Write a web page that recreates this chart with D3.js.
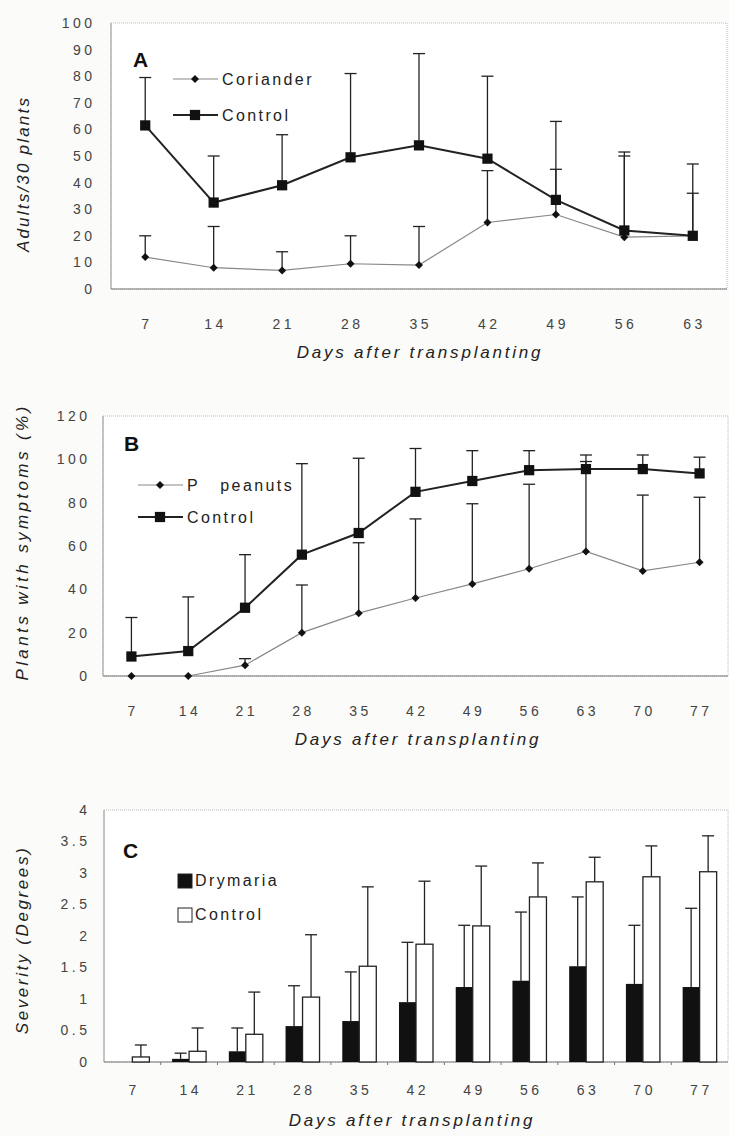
<!DOCTYPE html>
<html>
<head>
<meta charset="utf-8">
<script src="https://cdn.jsdelivr.net/npm/d3@7"></script>
<style>
  body { margin: 0; background: #fbfbf9; }
  svg { display: block; font-family: "Liberation Sans", Arial, sans-serif; }
</style>
</head>
<body>
<div class="canvas"></div>
<script>
// Panel A - adults per 30 plants
const daysA = [7, 14, 21, 28, 35, 42, 49, 56, 63]
const corianderMean = [12, 8, 7, 9.5, 9, 25, 28, 19.5, 20]
const corianderErr = [8, 15.5, 7, 10.5, 14.5, 19.5, 17, 30.5, 16]
const controlAMean = [61.5, 32.5, 39, 49.5, 54, 49, 33.5, 22, 20]
const controlAErr = [18, 17.5, 19, 31.5, 34.5, 31, 29.5, 29.5, 27]
const ticksA = [0, 10, 20, 30, 40, 50, 60, 70, 80, 90, 100]

// Panel B - plants with symptoms
const daysB = [7, 14, 21, 28, 35, 42, 49, 56, 63, 70, 77]
const peanutsMean = [0, 0, 5, 20, 29, 36, 42.5, 49.5, 57.5, 48.5, 52.5]
const peanutsErr = [0, 0, 3, 22, 32.5, 36.5, 37, 39, 41.5, 35, 30]
const controlBMean = [9, 11.5, 31.5, 56, 66, 85, 90, 95, 95.5, 95.5, 93.5]
const controlBErr = [18, 25, 24.5, 42, 34.5, 20, 14, 9, 6.5, 6.5, 7.5]
const ticksB = [0, 20, 40, 60, 80, 100, 120]

// Panel C - severity
const daysC = [7, 14, 21, 28, 35, 42, 49, 56, 63, 70, 77]
const drymariaMean = [0, 0.05, 0.17, 0.57, 0.65, 0.95, 1.19, 1.29, 1.52, 1.24, 1.19]
const drymariaErr = [0, 0.09, 0.37, 0.64, 0.78, 0.95, 0.98, 1.09, 1.1, 0.93, 1.25]
const controlCMean = [0.08, 0.17, 0.44, 1.03, 1.52, 1.87, 2.16, 2.62, 2.86, 2.94, 3.02]
const controlCErr = [0.19, 0.37, 0.67, 0.99, 1.26, 1.0, 0.95, 0.54, 0.39, 0.49, 0.57]
const ticksC = [0, 0.5, 1, 1.5, 2, 2.5, 3, 3.5, 4]

const svg = d3.select('.canvas')
  .append('svg')
  .attr('width', 729)
  .attr('height', 1136)

const ink = '#222'
const capW = 12
const tickSp = 3.5

// frame, ticks and titles shared by all panels
function frame(p) {
  const g = svg.append('g')
  g.append('rect')
    .attr('x', p.left).attr('y', p.top)
    .attr('width', p.right - p.left).attr('height', p.bottom - p.top)
    .attr('fill', '#fff')
    .attr('stroke', '#bbb')
    .attr('stroke-dasharray', '1,1')
  g.append('line')
    .attr('x1', p.left).attr('x2', p.left)
    .attr('y1', p.top).attr('y2', p.bottom)
    .attr('stroke', '#999')
  g.append('line')
    .attr('x1', p.left).attr('x2', p.right)
    .attr('y1', p.bottom).attr('y2', p.bottom)
    .attr('stroke', '#777')
    .attr('stroke-width', 1.2)

  g.selectAll('.ytick')
    .data(p.ticks)
    .enter()
    .append('text')
      .attr('x', p.labelX + tickSp)
      .attr('y', d => p.y(d))
      .attr('dy', '0.35em')
      .attr('text-anchor', 'end')
      .attr('fill', '#444')
      .style('font-size', '14px')
      .style('letter-spacing', tickSp + 'px')
      .text(d => d)

  g.selectAll('.xtick')
    .data(p.days)
    .enter()
    .append('text')
      .attr('x', d => p.x(d) + (p.x.bandwidth ? p.x.bandwidth() / 2 : 0) + tickSp / 2)
      .attr('y', p.bottom + p.xLabDy)
      .attr('text-anchor', 'middle')
      .attr('fill', '#444')
      .style('font-size', '14px')
      .style('letter-spacing', tickSp + 'px')
      .text(d => d)

  g.append('text')
    .attr('x', p.xTitleX)
    .attr('y', p.bottom + p.xTitleDy)
    .attr('text-anchor', 'middle')
    .attr('fill', ink)
    .style('font-size', '17px')
    .style('font-style', 'italic')
    .style('letter-spacing', '2.8px')
    .text('Days after transplanting')

  g.append('text')
    .attr('transform', `translate(${p.yTitleX}, ${p.yTitleY}) rotate(-90)`)
    .attr('text-anchor', 'middle')
    .attr('fill', ink)
    .style('font-size', '17px')
    .style('font-style', 'italic')
    .style('letter-spacing', p.yTitleSp + 'px')
    .text(p.yTitle)

  g.append('text')
    .attr('x', p.letterX).attr('y', p.letterY)
    .attr('fill', '#111')
    .style('font-size', '21px')
    .style('font-weight', 'bold')
    .text(p.letter)
  return g
}

function errBars(g, days, means, errs, x, y, dx) {
  const data = days.map((d, i) => ({ d, m: means[i], e: errs[i] })).filter(o => o.e > 0)
  g.selectAll(null).data(data).enter().append('line')
    .attr('x1', o => x(o.d) + dx).attr('x2', o => x(o.d) + dx)
    .attr('y1', o => y(o.m)).attr('y2', o => y(o.m + o.e))
    .attr('stroke', ink).attr('stroke-width', 1.3)
  g.selectAll(null).data(data).enter().append('line')
    .attr('x1', o => x(o.d) + dx - capW / 2).attr('x2', o => x(o.d) + dx + capW / 2)
    .attr('y1', o => y(o.m + o.e)).attr('y2', o => y(o.m + o.e))
    .attr('stroke', ink).attr('stroke-width', 1.3)
}

// diamond = square turned 45 degrees
const diamond = d3.symbol().type(d3.symbolSquare).size(32)
const square = d3.symbol().type(d3.symbolSquare).size(105)

function linePanel(p, s1, s2) {
  const g = frame(p)
  const x = p.x, y = p.y
  errBars(g, p.days, s1.mean, s1.err, x, y, 0)
  errBars(g, p.days, s2.mean, s2.err, x, y, 0)

  const line = d3.line().x(d => x(d[0])).y(d => y(d[1]))
  g.append('path')
    .attr('d', line(p.days.map((d, i) => [d, s1.mean[i]])))
    .attr('fill', 'none').attr('stroke', '#888').attr('stroke-width', 1.2)
  g.append('path')
    .attr('d', line(p.days.map((d, i) => [d, s2.mean[i]])))
    .attr('fill', 'none').attr('stroke', '#222').attr('stroke-width', 2)

  g.selectAll(null).data(p.days).enter().append('path')
    .attr('d', diamond)
    .attr('transform', (d, i) => `translate(${x(d)}, ${y(s1.mean[i])}) rotate(45)`)
    .attr('fill', '#111')
  g.selectAll(null).data(p.days).enter().append('path')
    .attr('d', square)
    .attr('transform', (d, i) => `translate(${x(d)}, ${y(s2.mean[i])})`)
    .attr('fill', '#111')

  // legend
  const lg = [[s1, diamond, '#888', 1.2, 45], [s2, square, '#222', 2, 0]]
  lg.forEach(([s, sym, col, w, rot], i) => {
    const ly = p.legY + i * p.legGap
    g.append('line')
      .attr('x1', p.legX).attr('x2', p.legX + 45)
      .attr('y1', ly).attr('y2', ly)
      .attr('stroke', col).attr('stroke-width', w)
    g.append('path').attr('d', sym)
      .attr('transform', `translate(${p.legX + 22}, ${ly}) rotate(${rot})`)
      .attr('fill', '#111')
    g.append('text')
      .attr('x', p.legX + 49).attr('y', ly).attr('dy', '0.35em')
      .attr('fill', ink)
      .style('font-size', '16px')
      .style('letter-spacing', '2.4px')
      .style('white-space', 'pre')
      .text(s.name)
  })
}

// Panel A
linePanel({
  left: 111, right: 727, top: 23, bottom: 289,
  days: daysA, ticks: ticksA,
  x: d3.scalePoint().domain(daysA).range([111, 727]).padding(0.5),
  y: d3.scaleLinear().domain([0, 100]).range([289, 23]),
  labelX: 92, xLabDy: 40, xTitleX: 420, xTitleDy: 69,
  yTitleX: 29, yTitleY: 174, yTitleSp: 2.2,
  yTitle: 'Adults/30 plants', letter: 'A', letterX: 133, letterY: 67,
  legX: 173, legY: 79, legGap: 36
}, { name: 'Coriander', mean: corianderMean, err: corianderErr },
   { name: 'Control', mean: controlAMean, err: controlAErr })

// Panel B
linePanel({
  left: 103, right: 728, top: 416, bottom: 676,
  days: daysB, ticks: ticksB,
  x: d3.scalePoint().domain(daysB).range([103, 728]).padding(0.5),
  y: d3.scaleLinear().domain([0, 120]).range([676, 416]),
  labelX: 87, xLabDy: 40, xTitleX: 418, xTitleDy: 69,
  yTitleX: 28, yTitleY: 542, yTitleSp: 3.4,
  yTitle: 'Plants with symptoms (%)', letter: 'B', letterX: 124, letterY: 451,
  legX: 138, legY: 485, legGap: 32
}, { name: 'P   peanuts', mean: peanutsMean, err: peanutsErr },
   { name: 'Control', mean: controlBMean, err: controlBErr })

// Panel C - grouped bars
const pc = {
  left: 104, right: 728, top: 810, bottom: 1062,
  days: daysC, ticks: ticksC,
  x: d3.scaleBand().domain(daysC).range([104, 728]),
  y: d3.scaleLinear().domain([0, 4]).range([1062, 810]),
  labelX: 87, xLabDy: 33, xTitleX: 412, xTitleDy: 64,
  yTitleX: 28, yTitleY: 940, yTitleSp: 2.6,
  yTitle: 'Severity (Degrees)', letter: 'C', letterX: 123, letterY: 858
}
const gC = frame(pc)
const xC = pc.x, yC = pc.y
const barW = 17
const xMid = d => xC(d) + xC.bandwidth() / 2

// small ticks between groups on the axis
gC.selectAll(null).data(daysC.slice(1)).enter().append('line')
  .attr('x1', d => xC(d)).attr('x2', d => xC(d))
  .attr('y1', pc.bottom).attr('y2', pc.bottom + 3)
  .attr('stroke', '#777')

errBars(gC, daysC, drymariaMean, drymariaErr, xMid, yC, -barW / 2)
errBars(gC, daysC, controlCMean, controlCErr, xMid, yC, barW / 2)

gC.selectAll(null).data(daysC).enter().append('rect')
  .attr('x', d => xMid(d) - barW)
  .attr('y', (d, i) => yC(drymariaMean[i]))
  .attr('width', barW)
  .attr('height', (d, i) => yC(0) - yC(drymariaMean[i]))
  .attr('fill', '#111')
gC.selectAll(null).data(daysC).enter().append('rect')
  .attr('x', d => xMid(d))
  .attr('y', (d, i) => yC(controlCMean[i]))
  .attr('width', barW)
  .attr('height', (d, i) => yC(0) - yC(controlCMean[i]))
  .attr('fill', '#fff')
  .attr('stroke', '#222')
  .attr('stroke-width', 1.3)

const legC = [['Drymaria', '#111'], ['Control', '#fff']]
legC.forEach(([name, fill], i) => {
  const ly = 880 + i * 34
  gC.append('rect')
    .attr('x', 178).attr('y', ly - 6)
    .attr('width', 14).attr('height', 14)
    .attr('fill', fill).attr('stroke', '#222')
  gC.append('text')
    .attr('x', 195).attr('y', ly).attr('dy', '0.35em')
    .attr('fill', ink)
    .style('font-size', '16px')
    .style('letter-spacing', '2.4px')
    .text(name)
})
</script>
</body>
</html>
